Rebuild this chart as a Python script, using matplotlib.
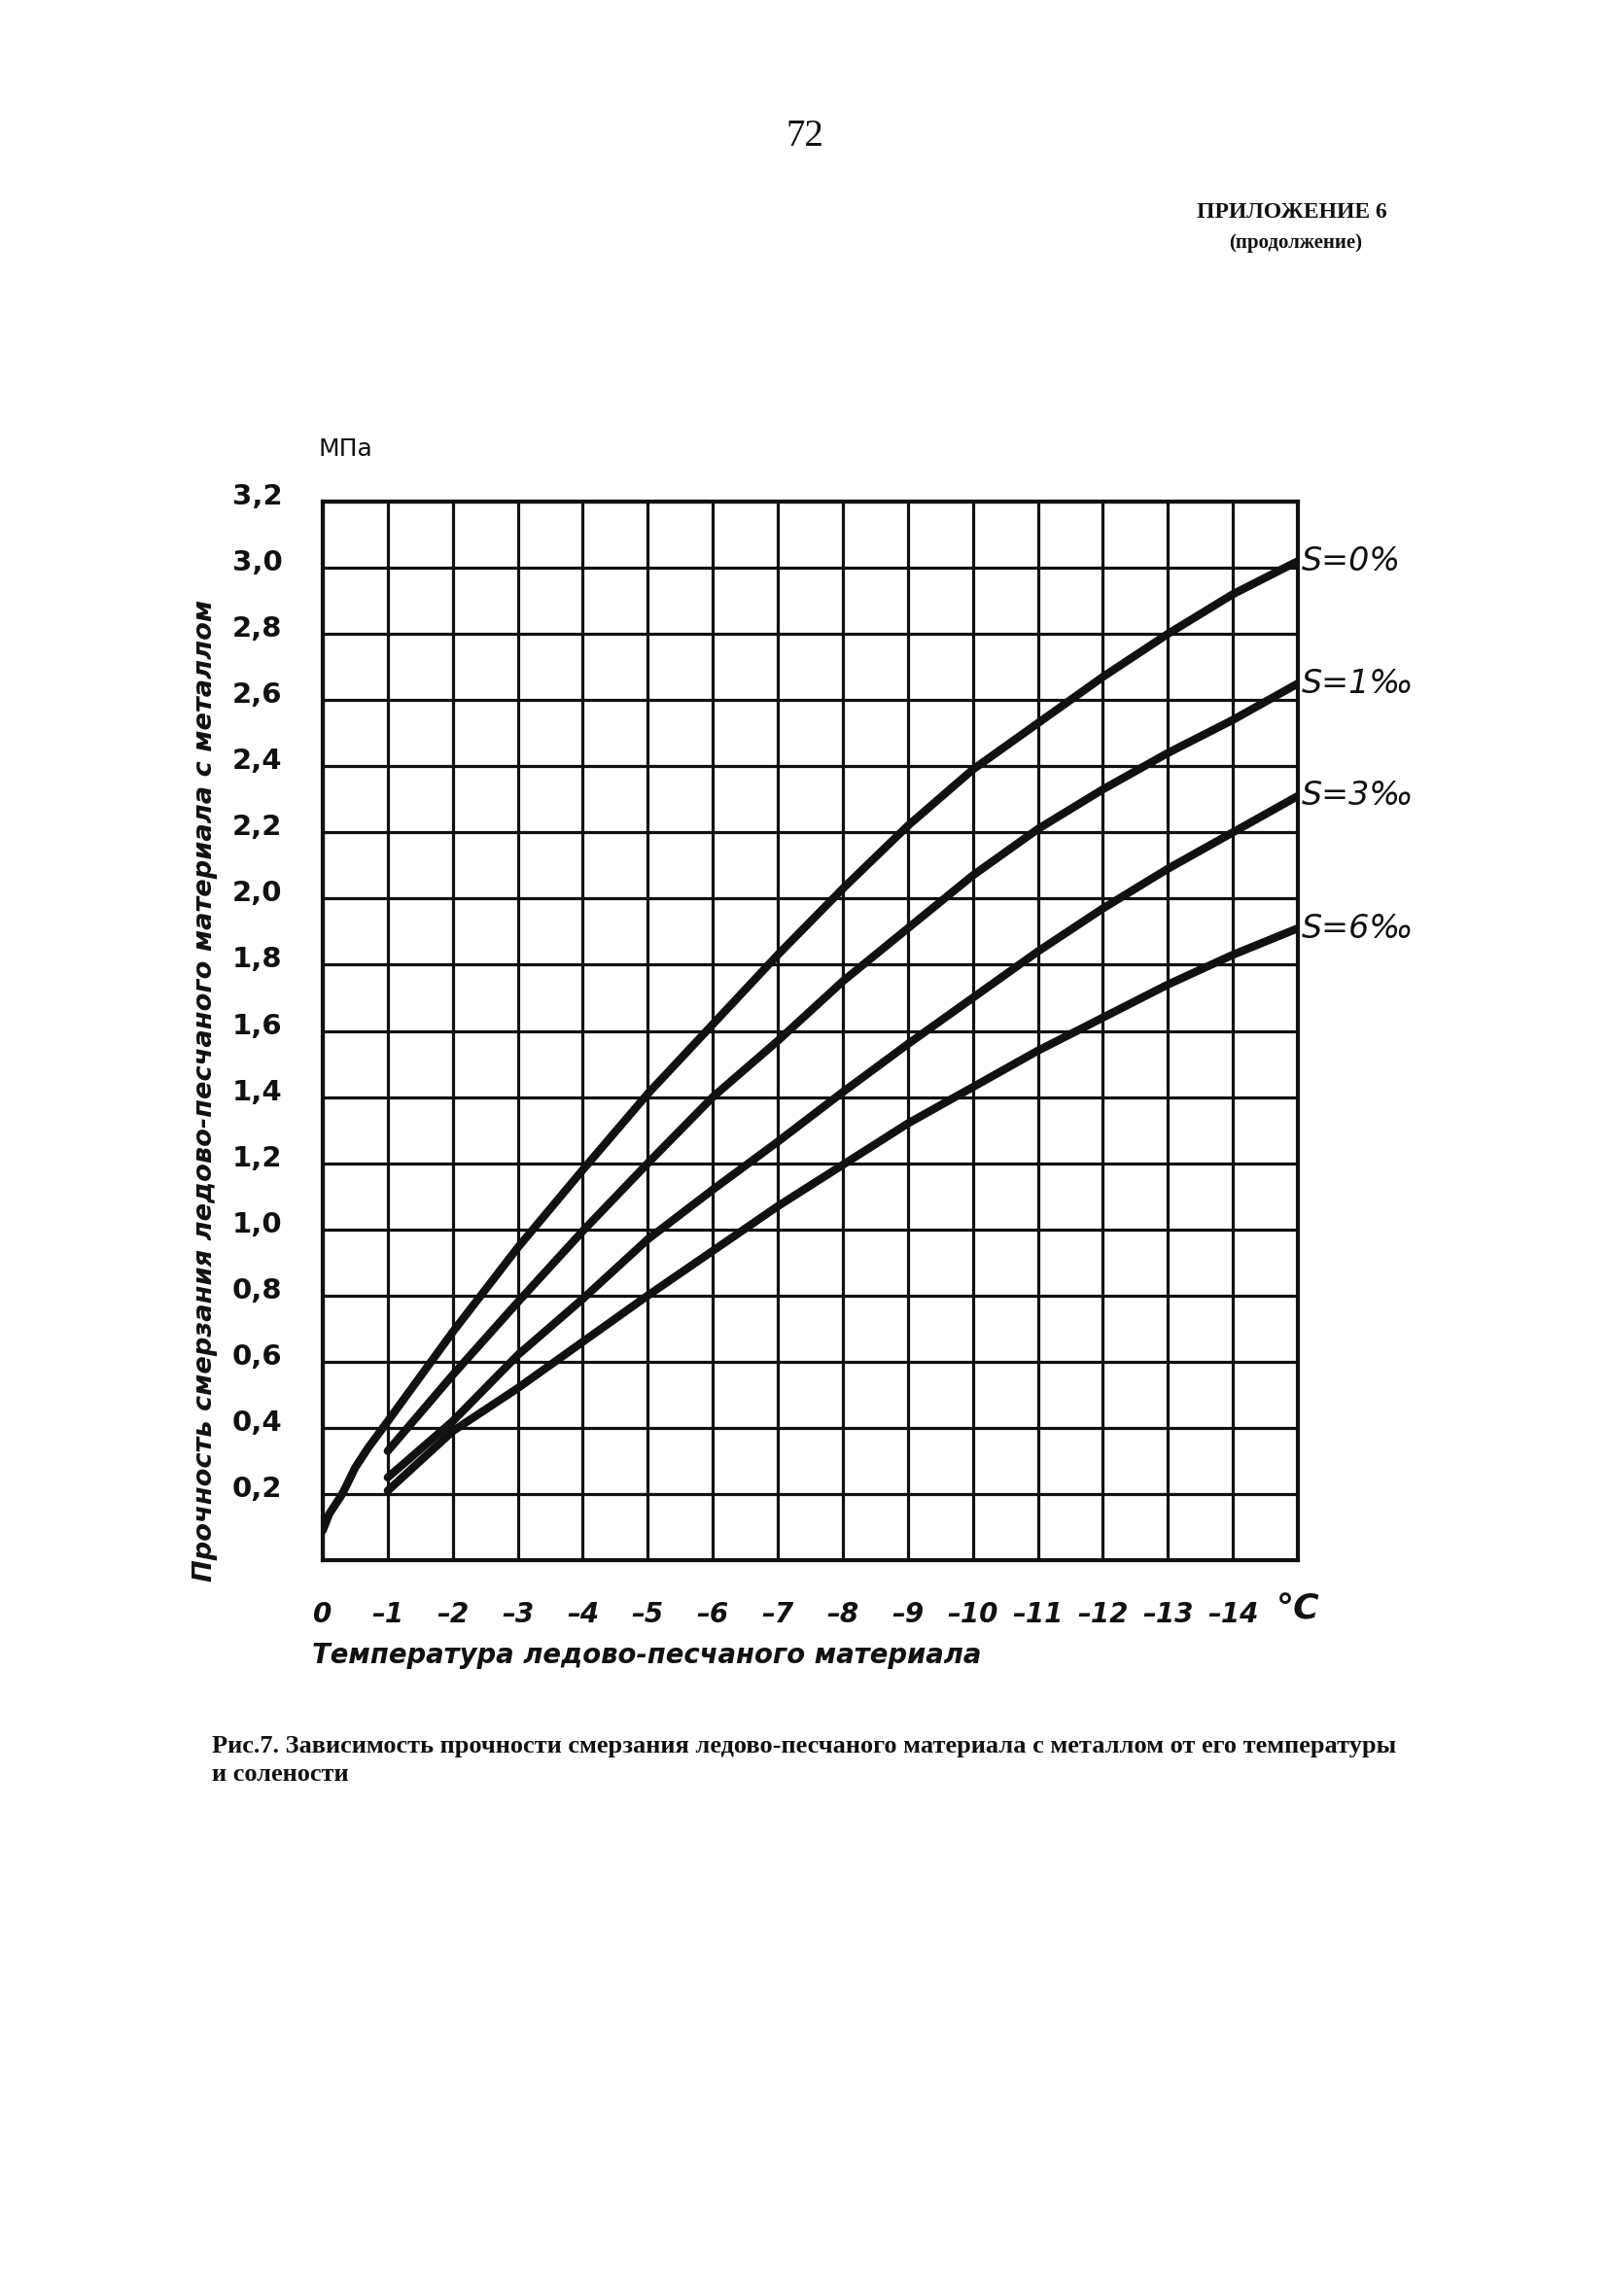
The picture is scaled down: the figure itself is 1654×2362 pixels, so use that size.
import matplotlib
matplotlib.use("Agg")
import matplotlib.pyplot as plt
from matplotlib.transforms import ScaledTranslation

# ---------------- data ----------------
temp_s0 = [0, -0.1, -0.3, -0.5, -0.7, -1, -2, -3, -4, -5, -6, -7, -8, -9, -10, -11, -12, -13, -14, -15]
strength_s0 = [0.09, 0.14, 0.20, 0.28, 0.34, 0.42, 0.69, 0.945, 1.18, 1.41, 1.62, 1.83, 2.03, 2.22,
               2.39, 2.53, 2.67, 2.80, 2.92, 3.02]

temp_salted = [-1, -2, -3, -4, -5, -6, -7, -8, -9, -10, -11, -12, -13, -14, -15]
strength_s1 = [0.33, 0.56, 0.78, 0.995, 1.20, 1.40, 1.57, 1.75, 1.91, 2.07, 2.21, 2.33, 2.44, 2.54, 2.65]
strength_s3 = [0.25, 0.42, 0.62, 0.79, 0.97, 1.12, 1.265, 1.415, 1.56, 1.70, 1.84, 1.97, 2.09, 2.20, 2.31]
strength_s6 = [0.21, 0.39, 0.52, 0.66, 0.80, 0.935, 1.07, 1.195, 1.32, 1.43, 1.54, 1.64, 1.74, 1.83, 1.91]

curve_labels = ["S=0%", "S=1‰", "S=3‰", "S=6‰"]

x_ticks = [0, -1, -2, -3, -4, -5, -6, -7, -8, -9, -10, -11, -12, -13, -14, -15]
x_tick_labels = ["0", "–1", "–2", "–3", "–4", "–5", "–6", "–7", "–8", "–9",
                 "–10", "–11", "–12", "–13", "–14", "°C"]
y_ticks = [0.2, 0.4, 0.6, 0.8, 1.0, 1.2, 1.4, 1.6, 1.8, 2.0, 2.2, 2.4, 2.6, 2.8, 3.0, 3.2]
y_tick_labels = ["0,2", "0,4", "0,6", "0,8", "1,0", "1,2", "1,4", "1,6", "1,8", "2,0",
                 "2,2", "2,4", "2,6", "2,8", "3,0", "3,2"]

page_number = "72"
appendix_title = "ПРИЛОЖЕНИЕ 6"
appendix_sub = "(продолжение)"
unit_label = "МПа"
x_label = "Температура ледово-песчаного материала"
y_label = "Прочность смерзания ледово-песчаного материала с металлом"
caption_1 = "Рис.7. Зависимость прочности смерзания ледово-песчаного материала с металлом от его температуры"
caption_2 = "и солености"

# ---------------- figure ----------------
W, H = 1654, 2362
fig = plt.figure(figsize=(W / 100, H / 100), dpi=100)
fig.patch.set_facecolor("white")


def fx(px):
    return px / W


def fy(py):
    return 1 - py / H


left, right, top, bottom = 332, 1335, 516, 1605
ax = fig.add_axes([fx(left), fy(bottom), (right - left) / W, (bottom - top) / H])
ax.set_xlim(0, -15)
ax.set_ylim(0, 3.2)

ink = "#111111"
hand = ["DejaVu Sans"]

ax.set_xticks(x_ticks)
ax.set_xticklabels(x_tick_labels, fontsize=20, fontweight="bold", fontstyle="italic",
                   family=hand, color=ink)
ax.set_yticks(y_ticks)
ax.set_yticklabels(y_tick_labels, fontsize=21, fontweight="bold", family=hand, color=ink)
ax.tick_params(axis="both", length=0)
ax.tick_params(axis="x", pad=30)
ax.tick_params(axis="y", pad=30)
for lab in ax.get_yticklabels():
    lab.set_transform(lab.get_transform() + ScaledTranslation(0, 8 / 100, fig.dpi_scale_trans))
# the last x label (°C) sits a little higher and larger
xl = ax.get_xticklabels()[-1]
xl.set_fontsize(26)
xl.set_transform(xl.get_transform() + ScaledTranslation(0, 8 / 100, fig.dpi_scale_trans))

ax.grid(True, color=ink, linewidth=2.3)
ax.set_axisbelow(True)
for sp in ax.spines.values():
    sp.set_linewidth(3.0)
    sp.set_color(ink)

curve_kw = dict(color=ink, linewidth=6.0, solid_capstyle="round", solid_joinstyle="round", zorder=3)
series = [(temp_s0, strength_s0), (temp_salted, strength_s1),
          (temp_salted, strength_s3), (temp_salted, strength_s6)]
for (xs, ys), lab in zip(series, curve_labels):
    ax.plot(xs, ys, **curve_kw)
    ax.annotate(lab, xy=(xs[-1], ys[-1]), xytext=(3, 0), textcoords="offset points",
                ha="left", va="center", fontsize=24, fontstyle="italic",
                family=hand, color=ink, annotation_clip=False)

# ---------------- texts ----------------
fig.text(fx(828), fy(140), page_number, fontsize=28, family=["Liberation Serif"],
         ha="center", va="center", color=ink)
fig.text(fx(1427), fy(218), appendix_title, fontsize=17, fontweight="bold",
         family=["Liberation Serif"], ha="right", va="center", color=ink)
fig.text(fx(1333), fy(250), appendix_sub, fontsize=15, fontweight="bold",
         family=["Liberation Serif"], ha="center", va="center", color=ink)

fig.text(fx(328), fy(462), unit_label, fontsize=18,
         family=hand, ha="left", va="center", color=ink)

fig.text(fx(211), fy(1122), y_label, rotation=90, fontsize=19.6, fontweight="bold",
         fontstyle="italic", family=hand, ha="center", va="center", color=ink)
fig.text(fx(321), fy(1703), x_label, fontsize=19.8, fontweight="bold",
         fontstyle="italic", family=hand, ha="left", va="center", color=ink)

fig.text(fx(218), fy(1797), caption_1, fontsize=19, fontweight="bold",
         family=["Liberation Serif"], ha="left", va="center", color=ink)
fig.text(fx(218), fy(1825), caption_2, fontsize=19, fontweight="bold",
         family=["Liberation Serif"], ha="left", va="center", color=ink)

fig.savefig("out.png", dpi=100, facecolor="white")
